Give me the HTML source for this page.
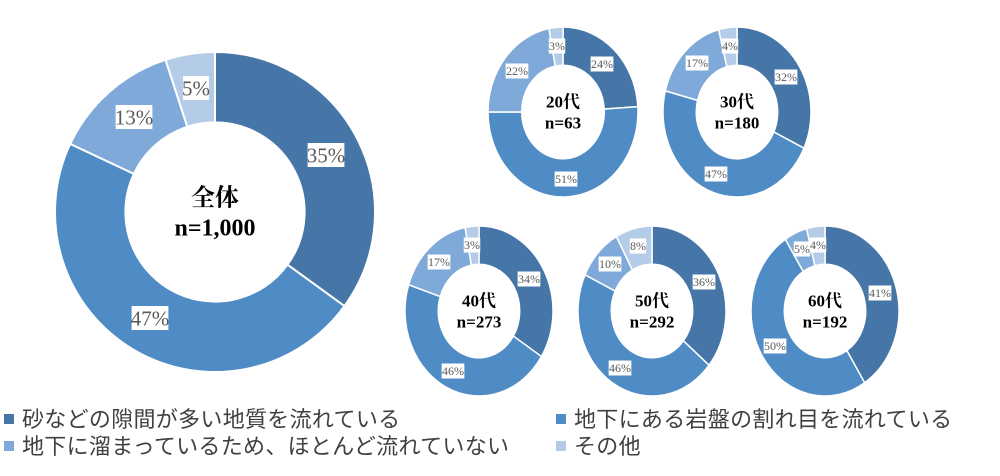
<!DOCTYPE html>
<html><head><meta charset="utf-8"><style>
body{margin:0;background:#fff;width:1000px;height:476px;overflow:hidden}
svg{position:absolute;left:0;top:0}
.lg{position:absolute;font-family:"Liberation Sans","Noto Sans CJK JP",sans-serif;font-size:22px;letter-spacing:0.3px;line-height:26px;color:#404040;white-space:nowrap}
.lg i{display:inline-block;width:10px;height:10px;margin-right:8px;vertical-align:3px}
</style></head><body>
<svg id="s" width="1000" height="476" xmlns="http://www.w3.org/2000/svg"></svg>
<div class="lg" style="left:4px;top:407px"><i style="background:#4676a7"></i>砂などの隙間が多い地質を流れている</div>
<div class="lg" style="left:556px;top:407px"><i style="background:#4f8bc4"></i>地下にある岩盤の割れ目を流れている</div>
<div class="lg" style="left:4px;top:434px"><i style="background:#7ea9d9"></i>地下に溜まっているため、ほとんど流れていない</div>
<div class="lg" style="left:556px;top:434px"><i style="background:#b5cce8"></i>その他</div>
<script>
const C=["#4676a7","#4f8bc4","#7ea9d9","#b5cce8"];
const charts=[
 {cx:215,cy:212,rx:160,ry:160,ir:0.56,v:[35,47,13,5],t1:"全体",t2:"n=1,000",fs:24,lf:21,
  L:[[326,155,"35%"],[150,318,"47%"],[134,117,"13%"],[196,88,"5%"]]},
 {cx:563,cy:112,rx:75,ry:85,ir:0.55,v:[24,51,22,3],t1:"20代",t2:"n=63",fs:17,lf:12,
  L:[[602,64,"24%"],[566,179,"51%"],[517,71,"22%"],[557,46,"3%"]]},
 {cx:737,cy:112,rx:74,ry:85,ir:0.55,v:[32,47,17,4],t1:"30代",t2:"n=180",fs:17,lf:12,
  L:[[786,77,"32%"],[716,174,"47%"],[697,63,"17%"],[730,46,"4%"]]},
 {cx:479,cy:311,rx:74,ry:85,ir:0.55,v:[34,46,17,3],t1:"40代",t2:"n=273",fs:17,lf:12,
  L:[[529,279,"34%"],[453,371,"46%"],[439,262,"17%"],[472,245,"3%"]]},
 {cx:652,cy:311,rx:74,ry:85,ir:0.55,v:[36,46,10,8],t1:"50代",t2:"n=292",fs:17,lf:12,
  L:[[704,282,"36%"],[620,368,"46%"],[610,264,"10%"],[638,246,"8%"]]},
 {cx:825,cy:311,rx:74,ry:85,ir:0.55,v:[41,50,5,4],t1:"60代",t2:"n=192",fs:17,lf:12,
  L:[[880,293,"41%"],[775,346,"50%"],[802,249,"5%"],[818,245,"4%"]]}
];
let h="";
for(const c of charts){
 const tot=c.v.reduce((a,b)=>a+b,0);let a=0;
 c.v.forEach((v,i)=>{
  const a0=a/tot*2*Math.PI,a1=(a+v)/tot*2*Math.PI;a+=v;
  const P=(ang,k)=>[c.cx+c.rx*k*Math.sin(ang),c.cy-c.ry*k*Math.cos(ang)];
  const [x0,y0]=P(a0,1),[x1,y1]=P(a1,1),[x2,y2]=P(a1,c.ir),[x3,y3]=P(a0,c.ir);
  const lg=(a1-a0)>Math.PI?1:0;
  h+=`<path d="M${x0},${y0}A${c.rx},${c.ry} 0 ${lg} 1 ${x1},${y1}L${x2},${y2}A${c.rx*c.ir},${c.ry*c.ir} 0 ${lg} 0 ${x3},${y3}Z" fill="${C[i]}" stroke="#fff" stroke-width="${c.lf>15?2:1.5}"/>`;
 });
 for(const [x,y,t] of c.L){
  const w=t.length*c.lf*0.52+4,hh=c.lf+3;
  h+=`<rect x="${x-w/2}" y="${y-hh/2}" width="${w}" height="${hh}" fill="#fff"/>`;
  h+=`<text x="${x}" y="${y+c.lf*0.35}" font-family="Liberation Serif,serif" font-size="${c.lf}" fill="#595959" text-anchor="middle">${t}</text>`;
 }
 const d=c.fs*1.25;
 h+=`<text x="${c.cx}" y="${c.cy-d/2+c.fs*0.35}" font-family="Liberation Serif,Noto Serif CJK SC,serif" font-weight="bold" font-size="${c.fs}" text-anchor="middle">${c.t1}</text>`;
 h+=`<text x="${c.cx}" y="${c.cy+d/2+c.fs*0.35}" font-family="Liberation Serif,serif" font-weight="bold" font-size="${c.fs}" text-anchor="middle">${c.t2}</text>`;
}
document.getElementById("s").innerHTML=h;
</script>
</body></html>
